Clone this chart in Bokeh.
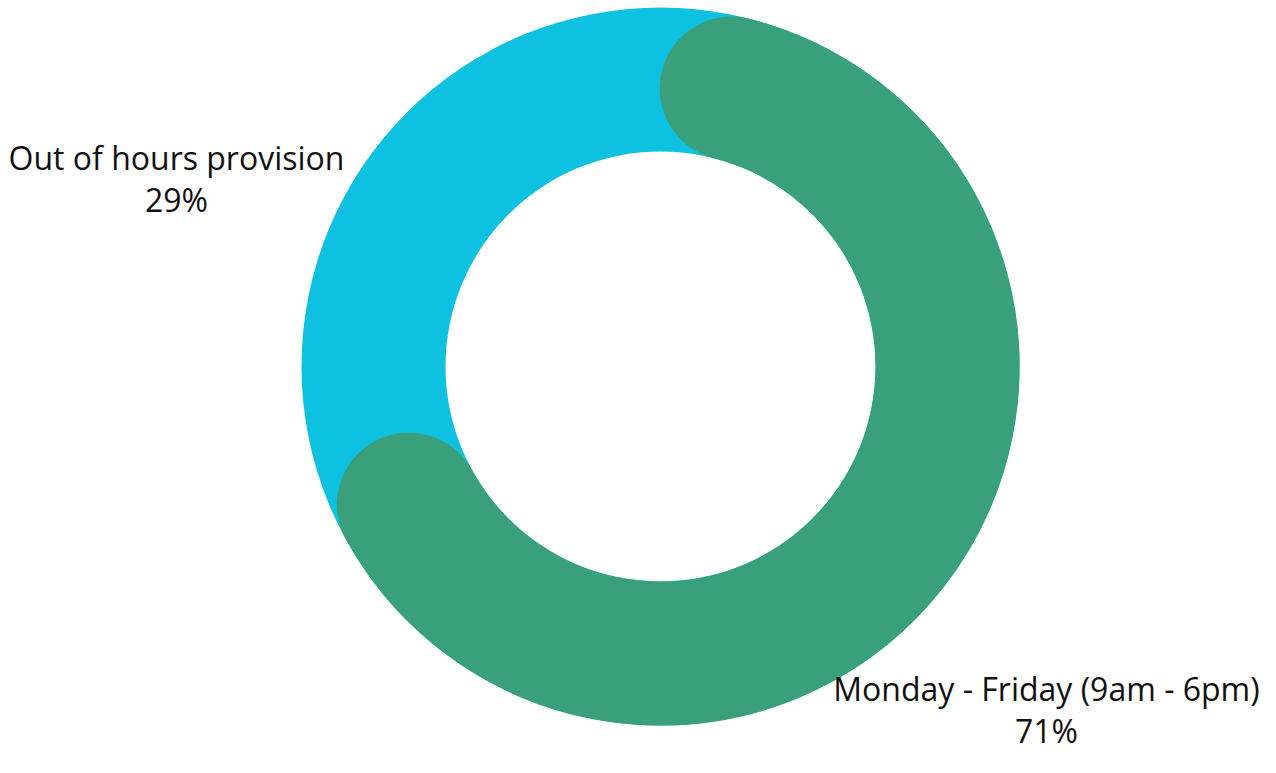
import math
from bokeh.plotting import figure
from bokeh.models import Range1d
from bokeh.core.properties import value
from bokeh.embed import file_html
from bokeh.resources import INLINE

categories = ["Monday - Friday (9am - 6pm)", "Out of hours provision"]
shares = [71, 29]
colors = ["#3A9F7B", "#0FC1E0"]

W, H = 1260, 757
p = figure(width=W, height=H, output_backend="svg", toolbar_location=None,
           x_range=Range1d(0, W), y_range=Range1d(0, H),
           min_border=0, outline_line_color=None)
p.axis.visible = False
p.grid.visible = False
p.background_fill_color = "white"
p.border_fill_color = "white"

def Y(py):
    return H - py

cx, cy = 660, Y(366)
r_out, r_in = 359, 215
r_mid = (r_out + r_in) / 2
band = r_out - r_in
cap = (band / 2) / r_mid  # angular inset of round caps (radians)

# background ring in second series colour
p.annulus(x=[cx], y=[cy], inner_radius=r_in, outer_radius=r_out,
          fill_color=colors[1], line_color=None)

# main series drawn clockwise from top with rounded caps
total = sum(shares)
theta1 = shares[0] / total * 2 * math.pi
start = math.pi / 2 - cap
end = math.pi / 2 - (theta1 - cap)
p.arc(x=[cx], y=[cy], radius=r_mid, start_angle=start, end_angle=end,
      direction="clock", line_color=colors[0], line_width=band, line_cap="round")

font = value("Open Sans")
labels = [
    (1046, 688, categories[0], f"{shares[0]}%"),
    (176, 157, categories[1], f"{shares[1]}%"),
]
for lx, ly, name, pct in labels:
    p.text(x=[lx], y=[Y(ly)], text=[name], text_font=font, text_font_size="32px",
           text_align="center", text_baseline="middle", text_color="#111111")
    p.text(x=[lx], y=[Y(ly + 42)], text=[pct], text_font=font, text_font_size="32px",
           text_align="center", text_baseline="middle", text_color="#111111")

open("out.html", "w").write(file_html(p, INLINE))
